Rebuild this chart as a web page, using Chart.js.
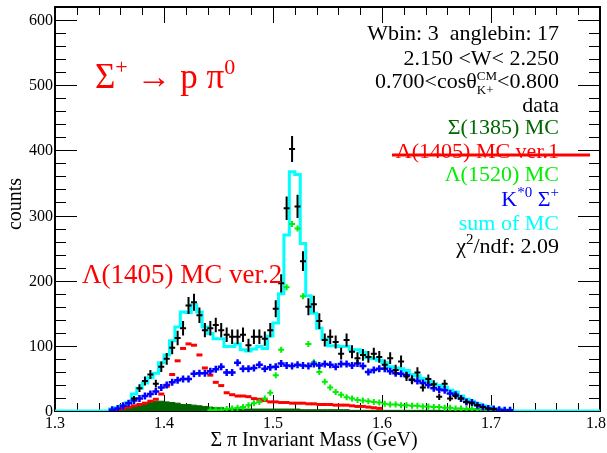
<!DOCTYPE html>
<html>
<head>
<meta charset="utf-8">
<title>Sigma pi invariant mass</title>
<script src="https://cdn.jsdelivr.net/npm/chart.js@4.4.1/dist/chart.umd.min.js"></script>
<style>
  html, body { margin: 0; padding: 0; background: #fff; }
  #wrap { width: 607px; height: 453px; }
</style>
</head>
<body>
<div id="wrap"><canvas id="massChart" width="607" height="453"></canvas></div>
<script>
// histogram binning (GeV): 5 MeV bins, centres from 1.3525 to 1.7225
const binWidth = 0.005;
const firstBin = 1.3525;
const massBins = Array.from({ length: 75 }, (_, i) => +(firstBin + i * binWidth).toFixed(4));

const xTicks = [1.3, 1.4, 1.5, 1.6, 1.7, 1.8];
const yTicks = [0, 100, 200, 300, 400, 500, 600];

// measured counts with their statistical errors
const dataCounts = [null, null, null, null,
  19, 35, 46, 56, 42, 68, 80, 97, 112, 127,
  162, 167, 147, 124, 127, 132, 124, 117, 114, 114,
  117, 101, 114, 114, 111, 124, 157, 196, 311, 402,
  314, 230, 160, 164, 138, 109, 114, 106, 88, 109,
  91, 81, 86, 83, 88, 83, 71, 81, 63, 76,
  53, 48, 59, 36, 49, 41, 22, 42, 19, 23,
  19, 14, 12, 9, 6, 4, 3,
  null, null, null, null];
const dataErrors = [null, null, null, null,
  4, 6, 7, 7, 6, 8, 9, 10, 11, 11,
  13, 13, 12, 11, 11, 11, 11, 11, 11, 11,
  11, 10, 11, 11, 11, 11, 13, 14, 18, 20,
  18, 15, 13, 13, 12, 10, 11, 10, 9, 10,
  10, 9, 9, 9, 9, 9, 8, 9, 8, 9,
  7, 7, 8, 6, 7, 6, 5, 6, 4, 5,
  4, 4, 3, 3, 2, 2, 2,
  null, null, null, null];

// simulated components
const sigma1385 = [1, 2, 3, 5, 7, 9, 11, 14, 15, 15,
  14, 13, 12, 10, 10, 9, 8, 7, 6, 5,
  5, 4, 4, 3, 3, 3, 3, 3, 3, 3,
  3, 3, 3, 3, 3, 2, 2, 2, 2, 2,
  2, 2, 2, 2, 1, 1, 1, 1, 1, 1,
  1, 1, 1, 1, 1, 1, 1, 1, 1, 1,
  1, 1, 1, 1, 1, 1, 1, 1, 1, 1,
  1, 1, 1, 1, 0];
const lambda1405 = [1, 2, 4, 6, 8, 10, 12, 15, 18, 26,
  38, 56, 77, 96, 103, 101, 86, 66, 55, 44,
  39, 28, 25, 23, 23, 22, 19, 18, 16, 14,
  14, 13, 13, 12, 12, 12, 11, 11, 10, 10,
  10, 9, 9, 9, 8, 7, 7, 6, 5, 4,
  null, null, null, null, null, null, null, null, null, null,
  null, null, null, null, null, null, null, null, null, null,
  null, null, null, null, null];
const lambda1520 = [null, null, null, null, null, null, null, null, null, null,
  null, null, null, null, null, null, null, null, 1, 2,
  2, 3, 4, 5, 6, 9, 12, 14, 19, 28,
  55, 94, 190, 287, 280, 176, 103, 75, 60, 45,
  36, 29, 25, 21, 19, 17, 16, 15, 14, 13,
  11, 10, 10, 9, 9, 8, 8, 7, 7, 6,
  6, 5, 5, 4, 4, 3, 3, 3, 2, 2,
  2, 1, null, null, null];
const kStarSigma = [2, 4, 8, 12, 16, 19, 23, 26, 30, 36,
  40, 44, 47, 49, 49, 57, 58, 58, 61, 64,
  68, 59, 59, 74, 65, 65, 66, 71, 65, 67,
  68, 73, 70, 69, 71, 70, 69, 72, 70, 72,
  71, 68, 72, 72, 70, 73, 69, 60, 63, 65,
  65, 61, 58, 57, 55, 48, 46, 43, 40, 35,
  33, 32, 27, 25, 19, 14, 13, 9, 6, 4,
  3, 2, 1, 1, null];
const sumMC = [3, 5, 8, 13, 26, 35, 43, 51, 58, 74,
  86, 108, 129, 152, 151, 163, 152, 129, 119, 111,
  111, 99, 99, 103, 94, 92, 95, 99, 96, 115,
  135, 180, 270, 367, 363, 257, 177, 150, 127, 110,
  100, 100, 99, 99, 94, 94, 90, 82, 80, 78,
  74, 68, 66, 65, 62, 56, 54, 50, 46, 42,
  39, 37, 32, 29, 23, 18, 15, 11, 8, 6,
  4, 3, 2, 1, 0];

const xMin = 1.3, xMax = 1.8, yMax = 620;
const serif = '"Liberation Serif", "Times New Roman", serif';
const font = px => px + 'px ' + serif;

// ROOT-style step outline: flat across each bin, zero outside the filled range
function histOutline(values) {
  const pts = [{ x: xMin, y: 0 }];
  let lastEdge = xMin;
  values.forEach((v, i) => {
    if (v === null) return;
    pts.push({ x: massBins[i] - binWidth / 2, y: v });
    lastEdge = massBins[i] + binWidth / 2;
  });
  pts.push({ x: lastEdge, y: 0 }, { x: xMax, y: 0 });
  return pts;
}

function markers(values) {
  return values.map((v, i) => (v === null ? null : { x: massBins[i], y: v })).filter(Boolean);
}

const dataPoints = markers(dataCounts);
const dataErrPoints = dataErrors.filter(e => e !== null);

// text made of pieces: plain, raised/lowered, or a stacked sup/sub pair
function pieceWidth(ctx, p) {
  ctx.font = font(p.size);
  if (p.stack) return Math.max(ctx.measureText(p.stack[0]).width, ctx.measureText(p.stack[1]).width);
  return ctx.measureText(p.t).width;
}

function drawPieces(ctx, pieces, x, y, align, color) {
  const total = pieces.reduce((w, p) => w + pieceWidth(ctx, p), 0);
  let cx = align === 'right' ? x - total : x;
  ctx.fillStyle = color;
  ctx.textAlign = 'left';
  ctx.textBaseline = 'alphabetic';
  pieces.forEach(p => {
    const w = pieceWidth(ctx, p);
    ctx.font = font(p.size);
    if (p.stack) {
      ctx.fillText(p.stack[0], cx, y + p.dy[0]);
      ctx.fillText(p.stack[1], cx, y + p.dy[1]);
    } else {
      ctx.fillText(p.t, cx, y + (p.dy || 0));
    }
    cx += w;
  });
  return total;
}

// frame with inward ticks on all four sides
const frameTicks = {
  id: 'frameTicks',
  beforeDatasetsDraw(chart) {
    const { ctx, chartArea: a, scales: { x, y } } = chart;
    ctx.save();
    ctx.strokeStyle = '#000';
    ctx.lineWidth = 1;
    ctx.beginPath();
    for (let i = 0; i * 20 <= yMax; i++) {
      const py = Math.round(y.getPixelForValue(i * 20)) + 0.5;
      const len = i % 5 === 0 ? 22 : 11;
      ctx.moveTo(a.left, py); ctx.lineTo(a.left + len, py);
      ctx.moveTo(a.right, py); ctx.lineTo(a.right - len, py);
    }
    for (let i = 0; i <= 25; i++) {
      const px = Math.round(x.getPixelForValue(xMin + i * 0.02)) + 0.5;
      const len = i % 5 === 0 ? 16 : 8;
      ctx.moveTo(px, a.bottom); ctx.lineTo(px, a.bottom - len);
      ctx.moveTo(px, a.top); ctx.lineTo(px, a.top + len);
    }
    ctx.stroke();
    ctx.lineWidth = 2;
    ctx.strokeRect(a.left, a.top, a.right - a.left, a.bottom - a.top);
    ctx.restore();
  }
};

// vertical error bars plus short horizontal bars for the data points
const errorBars = {
  id: 'errorBars',
  afterDatasetsDraw(chart) {
    const { ctx, scales: { y } } = chart;
    chart.data.datasets.forEach((ds, di) => {
      if (!ds.yErrors) return;
      const meta = chart.getDatasetMeta(di);
      ctx.save();
      ctx.strokeStyle = ds.barColor;
      ctx.lineWidth = 2;
      ctx.beginPath();
      meta.data.forEach((pt, i) => {
        const v = ds.data[i].y, e = ds.yErrors[i];
        ctx.moveTo(pt.x, y.getPixelForValue(v + e));
        ctx.lineTo(pt.x, y.getPixelForValue(v - e));
        ctx.moveTo(pt.x - 3, pt.y);
        ctx.lineTo(pt.x + 3, pt.y);
      });
      ctx.stroke();
      ctx.restore();
    });
  }
};

// axis numbers, axis titles and all the annotation text
const labels = {
  id: 'labels',
  afterDraw(chart) {
    const { ctx, chartArea: a, scales: { x, y } } = chart;
    const W = chart.width;
    ctx.save();
    ctx.fillStyle = '#000';
    ctx.font = font(16);
    ctx.textBaseline = 'alphabetic';
    ctx.textAlign = 'right';
    yTicks.forEach(v => ctx.fillText(String(v), a.left - 2, y.getPixelForValue(v) + 5));
    ctx.textAlign = 'center';
    xTicks.forEach(v => {
      const s = v.toFixed(1);
      const half = ctx.measureText(s).width / 2;
      const px = Math.min(x.getPixelForValue(v), W - half - 1);
      ctx.fillText(s, px, 428);
    });

    ctx.font = font(20);
    ctx.fillText('Σ π Invariant Mass (GeV)', 314, 446);
    ctx.save();
    ctx.translate(21, 204);
    ctx.rotate(-Math.PI / 2);
    ctx.fillText('counts', 0, 0);
    ctx.restore();

    drawPieces(ctx, [
      { t: 'Σ', size: 35 }, { t: '+', size: 22, dy: -14 },
      { t: ' → p π', size: 35 }, { t: '0', size: 22, dy: -14 }
    ], 95, 88, 'left', '#ff0000');

    drawPieces(ctx, [{ t: 'Λ(1405) MC ver.2', size: 27 }], 82, 283, 'left', '#ff0000');

    const rx = 559;
    drawPieces(ctx, [{ t: 'Wbin: 3  anglebin: 17', size: 22 }], rx, 40, 'right', '#000');
    drawPieces(ctx, [{ t: '2.150 <W< 2.250', size: 22 }], rx, 65, 'right', '#000');
    drawPieces(ctx, [
      { t: '0.700<cosθ', size: 22 },
      { stack: ['CM', 'K+'], dy: [-8, 6], size: 13 },
      { t: '<0.800', size: 22 }
    ], rx, 88, 'right', '#000');
    drawPieces(ctx, [{ t: 'data', size: 22 }], rx, 112, 'right', '#000');
    drawPieces(ctx, [{ t: 'Σ(1385) MC', size: 22 }], rx, 134, 'right', '#006600');
    drawPieces(ctx, [{ t: 'Λ(1405) MC ver.1', size: 22 }], rx, 158, 'right', '#ff0000');
    ctx.strokeStyle = '#ff0000';
    ctx.lineWidth = 3;
    ctx.beginPath();
    ctx.moveTo(392, 155);
    ctx.lineTo(590, 155);
    ctx.stroke();
    drawPieces(ctx, [{ t: 'Λ(1520) MC', size: 22 }], rx, 181, 'right', '#00ee00');
    drawPieces(ctx, [
      { t: 'K', size: 22 }, { t: '*0', size: 15, dy: -9 },
      { t: ' Σ', size: 22 }, { t: '+', size: 15, dy: -9 }
    ], rx, 206, 'right', '#0000ff');
    drawPieces(ctx, [{ t: 'sum of MC', size: 22 }], rx, 230, 'right', '#00ffff');
    drawPieces(ctx, [
      { t: 'χ', size: 22 }, { t: '2', size: 15, dy: -9 },
      { t: '/ndf: 2.09', size: 22 }
    ], rx, 253, 'right', '#000');
    ctx.restore();
  }
};

new Chart(document.getElementById('massChart'), {
  type: 'line',
  data: {
    datasets: [
      {
        label: 'data',
        data: dataPoints,
        yErrors: dataErrPoints,
        barColor: '#000',
        showLine: false,
        pointRadius: 0,
        order: 0
      },
      {
        label: 'K*0 Sigma+',
        data: markers(kStarSigma),
        showLine: false,
        pointStyle: 'cross',
        pointRadius: 3.5,
        pointBorderWidth: 2.5,
        borderColor: '#0000ff',
        order: 1
      },
      {
        label: 'Lambda(1520) MC',
        data: markers(lambda1520),
        showLine: false,
        pointStyle: 'cross',
        pointRadius: 3,
        pointBorderWidth: 2,
        borderColor: '#00ee00',
        order: 2
      },
      {
        label: 'Lambda(1405) MC ver.2',
        data: markers(lambda1405),
        showLine: false,
        pointStyle: 'line',
        pointRadius: 3,
        pointBorderWidth: 3,
        borderColor: '#ff0000',
        order: 3
      },
      {
        label: 'sum of MC',
        data: histOutline(sumMC),
        stepped: 'before',
        borderColor: '#00ffff',
        borderWidth: 3,
        borderJoinStyle: 'miter',
        pointRadius: 0,
        fill: false,
        order: 4
      },
      {
        label: 'Sigma(1385) MC',
        data: histOutline(sigma1385),
        stepped: 'before',
        borderColor: '#006600',
        backgroundColor: '#006600',
        borderWidth: 1,
        pointRadius: 0,
        fill: 'origin',
        order: 5
      }
    ]
  },
  options: {
    responsive: false,
    animation: false,
    events: [],
    layout: { padding: { left: 55, right: 6, top: 7, bottom: 42 } },
    scales: {
      x: { type: 'linear', min: xMin, max: xMax, display: false },
      y: { type: 'linear', min: 0, max: yMax, display: false }
    },
    plugins: {
      legend: { display: false },
      tooltip: { enabled: false }
    }
  },
  plugins: [frameTicks, errorBars, labels]
});
</script>
</body>
</html>
